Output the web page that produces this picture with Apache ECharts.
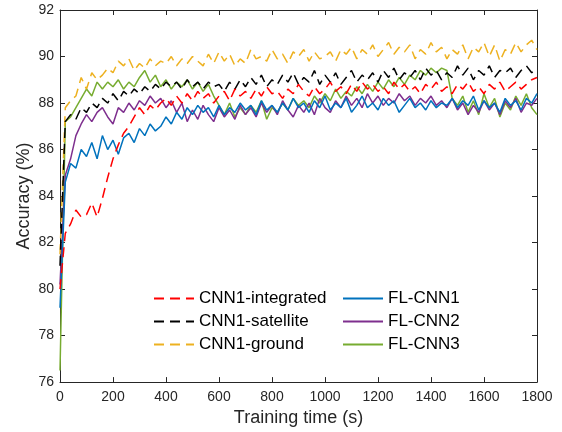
<!DOCTYPE html>
<html>
<head>
<meta charset="utf-8">
<script src="https://cdn.jsdelivr.net/npm/echarts@6/dist/echarts.min.js"></script>
<style>html,body{margin:0;padding:0;background:#fff}#c{width:562px;height:432px}</style>
</head>
<body>
<div id="c"></div>
<script>
// time axis (s): 0..1800 every 20 s
var times = [];
for (var k = 0; k <= 90; k++) times.push(k * 20);

var cnn1Integrated = [
80.0,82.4,82.8,83.4,83.1,83.2,83.7,83.1,83.9,84.8,
85.6,86.2,86.7,87.0,87.4,87.8,87.5,87.9,87.7,88.0,
88.2,87.9,88.3,88.0,88.4,88.1,88.5,88.2,88.4,88.0,
88.3,88.5,88.1,88.6,88.3,88.5,88.2,88.6,88.3,88.7,
88.4,88.5,88.2,88.6,88.4,88.8,88.5,88.3,88.7,88.4,
88.6,88.9,88.5,88.7,88.4,88.8,88.5,88.9,88.6,88.8,
88.5,88.7,88.4,88.9,88.6,88.8,88.5,88.7,88.4,88.8,
88.6,88.9,88.5,88.7,88.4,88.8,88.6,88.9,88.5,88.7,
88.4,88.8,88.6,88.9,88.5,88.7,88.9,88.6,88.8,89.0,
89.1];
var cnn1Satellite = [
81.0,87.2,87.5,87.3,87.8,87.6,88.0,87.8,88.2,88.0,
88.4,88.1,88.5,88.3,88.6,88.4,88.7,88.5,88.8,88.6,
88.9,88.7,88.9,88.6,89.0,88.7,88.9,88.6,88.9,88.7,
88.8,88.5,88.9,88.6,89.0,88.7,89.1,88.8,89.2,88.7,
89.0,88.8,89.2,88.9,89.3,88.8,89.1,88.9,89.4,88.8,
89.2,88.9,89.3,88.8,89.1,89.4,88.9,89.2,89.0,89.3,
88.9,89.4,89.1,89.5,89.0,89.3,89.1,89.4,89.0,89.5,
89.2,89.4,89.0,89.3,89.1,89.6,89.2,89.5,89.0,89.4,
89.2,89.6,89.1,89.4,89.3,89.5,89.1,89.4,89.6,89.3,
89.5];
var cnn1Ground = [
81.5,87.8,88.1,88.3,89.1,88.6,89.3,89.0,89.2,89.5,
89.3,89.8,89.6,89.9,89.4,89.7,89.5,89.9,89.6,89.8,
89.7,90.0,89.6,89.9,89.7,90.0,89.8,89.6,90.1,89.7,
90.2,89.8,90.1,89.6,89.9,89.7,90.3,89.9,90.0,89.8,
90.3,89.9,90.1,89.7,90.2,90.0,90.3,89.8,90.2,89.9,
90.0,90.2,89.8,90.3,90.1,90.4,89.9,90.3,90.1,90.5,
90.0,90.3,90.6,90.1,90.4,90.2,90.5,89.9,90.3,90.1,
90.6,90.2,90.4,89.9,90.3,90.1,90.5,89.9,90.4,90.2,
90.6,90.0,90.5,89.8,90.3,90.1,90.6,90.2,90.5,90.7,
90.3];
var flCnn1 = [
79.2,84.6,85.4,85.2,86.0,85.7,86.3,85.6,86.6,86.0,
86.4,85.8,86.5,86.7,86.3,86.9,86.6,87.1,86.8,87.0,
87.4,87.1,87.6,87.3,87.8,87.5,87.9,87.6,87.8,87.4,
87.9,87.5,87.8,87.6,88.0,87.7,87.9,87.5,88.1,87.7,
87.9,87.6,88.0,87.7,88.2,87.8,88.0,87.6,88.1,87.8,
88.3,87.7,88.0,87.8,88.2,87.6,87.9,88.3,87.8,88.0,
87.7,88.2,87.9,88.1,87.6,87.9,88.2,87.8,88.0,87.7,
88.1,87.8,88.0,87.9,88.2,87.8,88.1,87.9,88.3,87.7,
88.1,87.8,88.0,87.6,88.2,87.9,88.1,87.7,88.2,88.0,
88.4];
var flCnn2 = [
80.2,84.9,85.6,86.6,87.1,87.5,87.2,87.6,87.8,87.4,
87.1,87.8,87.6,88.0,87.7,88.1,87.9,88.3,88.0,88.2,
87.8,88.1,87.6,88.0,87.2,87.7,87.3,87.9,87.5,87.2,
87.8,87.4,87.7,87.3,87.9,87.5,87.8,87.4,88.0,87.6,
87.9,87.5,88.1,87.7,87.4,87.9,87.6,88.0,87.5,88.2,
87.8,87.6,88.1,87.8,88.3,87.9,88.2,87.8,88.4,88.0,
88.3,87.9,88.2,88.0,88.4,88.1,88.3,87.9,88.2,88.0,
88.3,87.9,88.1,87.8,88.2,87.7,88.0,87.5,87.9,87.6,
88.1,87.7,88.0,87.5,88.1,87.8,88.2,87.6,88.0,87.9,
88.2];
var flCnn3 = [
76.5,87.2,87.4,87.8,88.2,88.6,88.3,88.9,88.6,88.9,
88.7,89.0,88.6,88.9,88.7,89.1,89.4,88.9,89.2,88.7,
89.0,88.6,88.9,88.7,89.0,88.6,88.9,88.5,88.8,88.3,
87.9,87.5,88.0,87.4,87.8,87.5,87.9,87.6,88.1,87.3,
87.8,87.6,88.0,87.7,88.2,87.9,88.1,87.8,88.3,88.0,
88.4,88.1,88.6,88.2,88.5,88.3,88.7,88.4,88.8,88.5,
88.9,88.6,89.0,88.7,89.1,88.8,89.2,89.0,89.4,89.2,
89.5,89.3,89.5,89.4,88.2,87.9,88.3,87.6,88.1,87.5,
88.4,87.8,88.2,87.4,88.0,87.7,88.3,87.9,88.4,87.8,
87.5];

var seriesNames = ['CNN1-integrated','CNN1-satellite','CNN1-ground','FL-CNN1','FL-CNN2','FL-CNN3'];
var seriesVals = [cnn1Integrated, cnn1Satellite, cnn1Ground, flCnn1, flCnn2, flCnn3];
var seriesColors = ['#FF0000','#000000','#EDB120','#0072BD','#7E2F8E','#77AC30'];
var seriesDashed = [true,true,true,false,false,false];

var xTicks = {min:0, max:1800, interval:200};
var yTicks = {min:76, max:92, interval:2};

var axisColor = '#262626';
var font = 'Liberation Sans, Arial, Helvetica, sans-serif';

function pairs(vals){ return vals.map(function(v,i){ return [times[i], v]; }); }

var chart = echarts.init(document.getElementById('c'), null, {renderer:'canvas'});
var series = seriesNames.map(function(n, i){
  return {
    name: n, type: 'line', xAxisIndex: 0, yAxisIndex: 0,
    data: pairs(seriesVals[i]),
    symbol: 'none', showSymbol: false, animation: false,
    z: 10 - i,
    lineStyle: { color: seriesColors[i], width: 1.5, type: seriesDashed[i] ? [10,6] : 'solid' },
    itemStyle: { color: seriesColors[i] }
  };
});

function baseAxis(t, pos, labels){
  return {
    type:'value', position: pos, min:t.min, max:t.max, interval:t.interval,
    axisLine:{show:true, onZero:false, lineStyle:{color:axisColor, width:1}},
    axisTick:{show:true, inside:true, length:5, lineStyle:{color:axisColor}},
    axisLabel:{show:labels, color:axisColor, fontSize:14, fontFamily:font, margin:8,
      formatter:function(v){ return String(v); }},
    splitLine:{show:false}
  };
}

var xa0 = baseAxis(xTicks,'bottom',true);
xa0.name = 'Training time (s)'; xa0.nameLocation='middle'; xa0.nameGap=26;
xa0.nameTextStyle = {fontSize:18, color:axisColor, fontFamily:font};
var ya0 = baseAxis(yTicks,'left',true);
ya0.name = 'Accuracy (%)'; ya0.nameLocation='middle'; ya0.nameGap=27;
ya0.nameMoveOverlap = false;
ya0.nameTextStyle = {fontSize:18, color:axisColor, fontFamily:font};
ya0.axisLabel.margin = 6;

var legendCommon = {orient:'vertical', top:285, itemWidth:40, itemHeight:14, itemGap:6,
  textStyle:{fontSize:17, color:'#000', fontFamily:font}, backgroundColor:'transparent',
  itemStyle:{opacity:0}};

chart.setOption({
  backgroundColor:'#fff',
  animation:false,
  grid:{left:60, right:25, top:10, bottom:42, containLabel:false},
  xAxis:[xa0, baseAxis(xTicks,'top',false)],
  yAxis:[ya0, baseAxis(yTicks,'right',false)],
  legend:[
    Object.assign({data:seriesNames.slice(0,3), left:148}, legendCommon),
    Object.assign({data:seriesNames.slice(3), left:337}, legendCommon)
  ],
  series: series
});
</script>
</body>
</html>
